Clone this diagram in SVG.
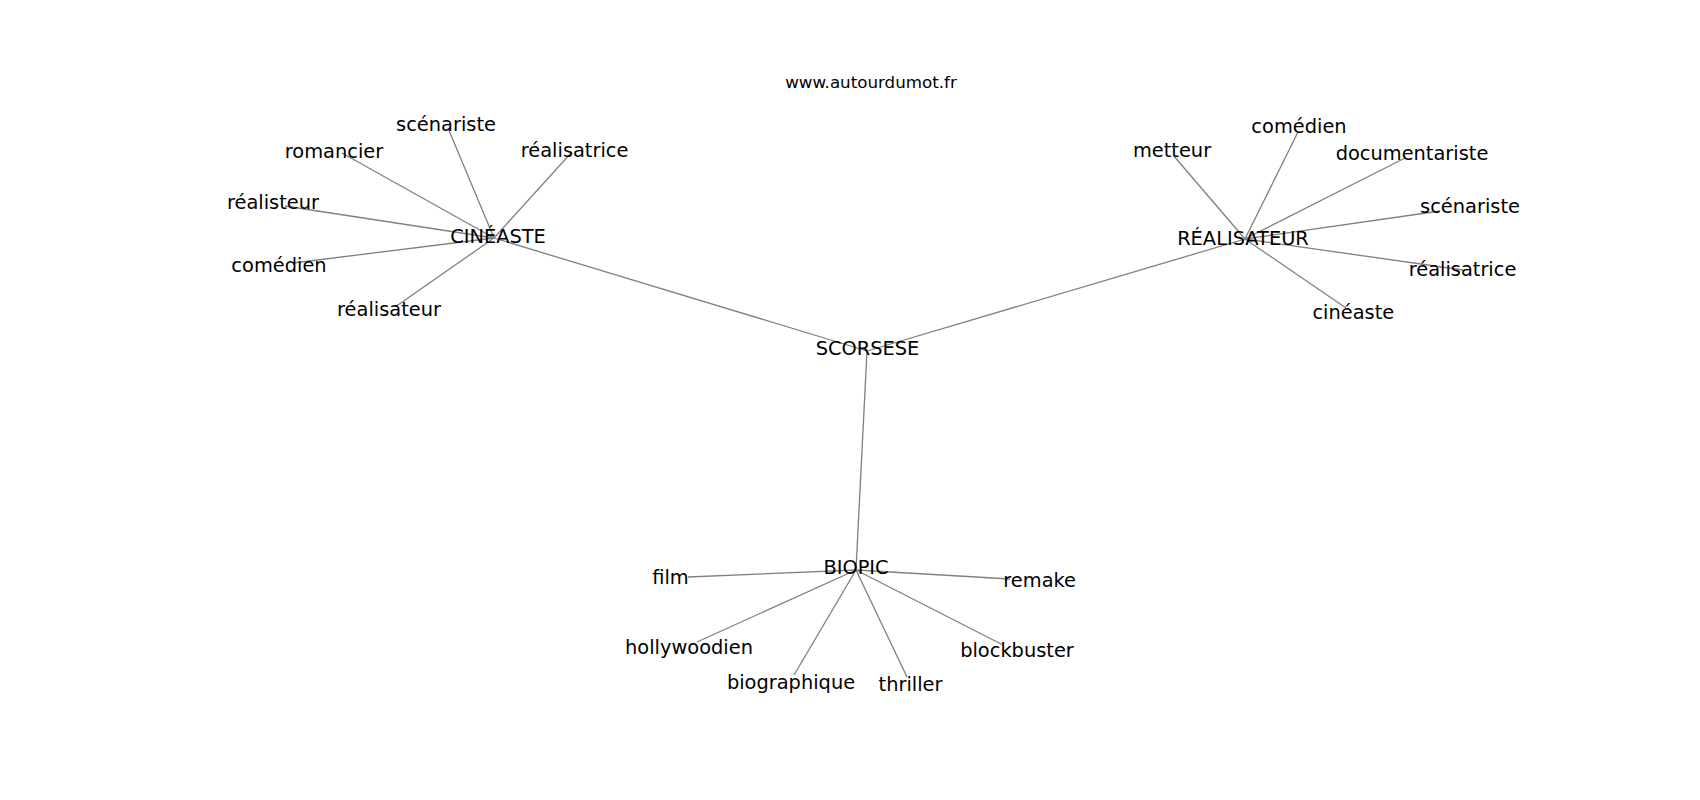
<svg xmlns="http://www.w3.org/2000/svg" width="1700" height="800" viewBox="0 0 1700 800">
<style>
.e{stroke:#808080;stroke-width:1.3;fill:none}
.l{font-family:"DejaVu Sans",sans-serif;font-size:19.4px;fill:#000;text-anchor:middle}
.t{font-family:"DejaVu Sans",sans-serif;font-size:16.7px;fill:#000;text-anchor:middle}
</style>
<rect width="1700" height="800" fill="#fff"/>
<g id="edges">
<line class="e" x1="867" y1="351" x2="494" y2="238"/>
<line class="e" x1="867" y1="351" x2="1245" y2="239"/>
<line class="e" x1="867" y1="351" x2="856" y2="570"/>
<line class="e" x1="494" y1="238" x2="448" y2="128"/>
<line class="e" x1="494" y1="238" x2="342" y2="153"/>
<line class="e" x1="494" y1="238" x2="571" y2="153"/>
<line class="e" x1="494" y1="238" x2="285" y2="206"/>
<line class="e" x1="494" y1="238" x2="293" y2="263"/>
<line class="e" x1="494" y1="238" x2="395" y2="307"/>
<line class="e" x1="1245" y1="239" x2="1173" y2="155"/>
<line class="e" x1="1245" y1="239" x2="1298" y2="132"/>
<line class="e" x1="1245" y1="239" x2="1405" y2="158"/>
<line class="e" x1="1245" y1="239" x2="1440" y2="211"/>
<line class="e" x1="1245" y1="239" x2="1463" y2="270"/>
<line class="e" x1="1245" y1="239" x2="1346" y2="308"/>
<line class="e" x1="856" y1="570" x2="688" y2="577"/>
<line class="e" x1="856" y1="570" x2="1010" y2="579"/>
<line class="e" x1="856" y1="570" x2="697" y2="642"/>
<line class="e" x1="856" y1="570" x2="794" y2="675"/>
<line class="e" x1="856" y1="570" x2="907" y2="677"/>
<line class="e" x1="856" y1="570" x2="1003" y2="645"/>
</g>
<text id="title" class="t" x="871" y="87.5">www.autourdumot.fr</text>
<g id="n-scorsese"><text class="l" x="867.5" y="354.5">SCORSESE</text></g>
<g id="n-cineaste"><text class="l" x="498" y="242.5">CINÉASTE</text></g>
<g id="n-realisateur"><text class="l" x="1243" y="244.5">RÉALISATEUR</text></g>
<g id="n-biopic"><text class="l" x="856" y="574.2">BIOPIC</text></g>
<g id="n-c-scenariste"><text class="l" x="446" y="130.7">scénariste</text></g>
<g id="n-c-romancier"><text class="l" x="334" y="157.7">romancier</text></g>
<g id="n-c-realisatrice"><text class="l" x="574.6" y="156.7">réalisatrice</text></g>
<g id="n-c-realisteur"><text class="l" x="273" y="209">réalisteur</text></g>
<g id="n-c-comedien"><text class="l" x="279" y="272.2">comédien</text></g>
<g id="n-c-realisateur"><text class="l" x="389" y="316">réalisateur</text></g>
<g id="n-r-comedien"><text class="l" x="1299" y="132.5">comédien</text></g>
<g id="n-r-metteur"><text class="l" x="1172" y="157.4">metteur</text></g>
<g id="n-r-documentariste"><text class="l" x="1412" y="159.5">documentariste</text></g>
<g id="n-r-scenariste"><text class="l" x="1470" y="213">scénariste</text></g>
<g id="n-r-realisatrice"><text class="l" x="1462.5" y="276.4">réalisatrice</text></g>
<g id="n-r-cineaste"><text class="l" x="1353.3" y="319.2">cinéaste</text></g>
<g id="n-b-film"><text class="l" x="670.5" y="584.2">film</text></g>
<g id="n-b-remake"><text class="l" x="1039.7" y="587.2">remake</text></g>
<g id="n-b-hollywoodien"><text class="l" x="689" y="653.7">hollywoodien</text></g>
<g id="n-b-biographique"><text class="l" x="791" y="689.2">biographique</text></g>
<g id="n-b-thriller"><text class="l" x="910.5" y="690.5">thriller</text></g>
<g id="n-b-blockbuster"><text class="l" x="1017" y="656.7">blockbuster</text></g>
</svg>
